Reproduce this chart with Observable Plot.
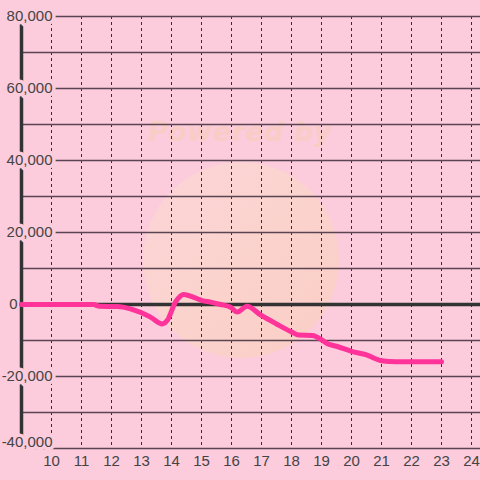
<!DOCTYPE html>
<html>
<head>
<meta charset="utf-8">
<script src="https://cdn.jsdelivr.net/npm/d3@7"></script>
<script src="https://cdn.jsdelivr.net/npm/@observablehq/plot@0.6"></script>
<style>
  html, body { margin: 0; padding: 0; background: #fccbdc; }
  #wrap { position: relative; width: 480px; height: 480px; overflow: hidden; }
  #logo { position: absolute; left: 143px; top: 162px; width: 196px; height: 196px; border-radius: 50%;
          background: linear-gradient(135deg, #fcd4d8 0%, #fbd3cc 55%, #f9cdc6 100%); }
  #powered { position: absolute; left: 0; width: 480px; top: 116px; text-align: center;
             font: italic bold 27px "DejaVu Sans", sans-serif; color: #f8cdc6; letter-spacing: 0.5px; }
  #chart { position: absolute; left: 0; top: 0; }
</style>
</head>
<body>
<div id="wrap">
  <div id="logo"></div>
  <div id="powered">Powered by</div>
  <div id="chart"></div>
</div>
<script>
const hours  = [9.0, 11.4, 11.6, 12.2, 12.63, 13.0, 13.3, 13.69, 13.86, 14.13, 14.41, 14.74, 15.02, 15.3, 15.63, 15.97, 16.19, 16.52, 16.97, 17.5, 18.0, 18.25, 18.7, 19.0, 19.2, 19.5, 20.0, 20.5, 21.0, 21.5, 22.0, 23.0];
const values = [0, 0, -500, -550, -1200, -2300, -3500, -5400, -4400, 650, 2800, 2000, 1100, 650, 0, -750, -2100, -470, -2900, -5400, -7600, -8500, -8600, -9800, -10900, -11600, -13000, -14000, -15600, -15900, -15900, -15900];

const xTicks = [10, 11, 12, 13, 14, 15, 16, 17, 18, 19, 20, 21, 22, 23, 24];
const yGrid = [-40000, -30000, -20000, -10000, 10000, 20000, 30000, 40000, 50000, 60000, 70000, 80000];
const yLabels = [-20000, 20000, 40000, 60000, 80000];
const bottomLabel = [-40000];
const zeroLabel = [0];

const data = hours.map((h, i) => ({h, v: values[i]}));
const bg = "#fccbdc";
const fmt = d => d3.format(",")(d).replace("\u2212", "-");

const chart = Plot.plot({
  width: 480, height: 480,
  marginLeft: 21, marginRight: 0, marginTop: 16, marginBottom: 32,
  style: {background: "transparent", fontFamily: "'Liberation Sans', Arial, sans-serif"},
  x: {domain: [9, 24.3], axis: null},
  y: {domain: [-40000, 80000], axis: null},
  marks: [
    Plot.ruleX(xTicks, {x: d => d, stroke: "#3d2a35", strokeWidth: 1, strokeDasharray: "3,3"}),
    Plot.ruleY(yGrid, {y: d => d, stroke: "#5a4452", strokeWidth: 1.5}),
    Plot.ruleY([0], {stroke: "#333", strokeWidth: 3.5}),
    Plot.ruleX([9], {stroke: "#333", strokeWidth: 3.5}),
    Plot.text(yLabels, {x: 9, y: d => d, text: fmt, textAnchor: "end", dx: 31,
      fill: "#444", stroke: bg, strokeWidth: 7, fontSize: 15}),
    Plot.text(bottomLabel, {x: 9, y: d => d, text: fmt, textAnchor: "end", dx: 31, dy: -6,
      fill: "#444", stroke: bg, strokeWidth: 7, fontSize: 15}),
    Plot.text(zeroLabel, {x: 9, y: d => d, text: fmt, textAnchor: "end", dx: -4,
      fill: "#444", fontSize: 15}),
    Plot.text(xTicks, {x: d => d, y: -40000, text: d => String(d), dy: 13, fill: "#444", fontSize: 15}),
    Plot.line(data, {x: "h", y: "v", stroke: "#ff3399", strokeWidth: 5, curve: "monotone-x"})
  ]
});
document.getElementById("chart").appendChild(chart);
</script>
</body>
</html>
